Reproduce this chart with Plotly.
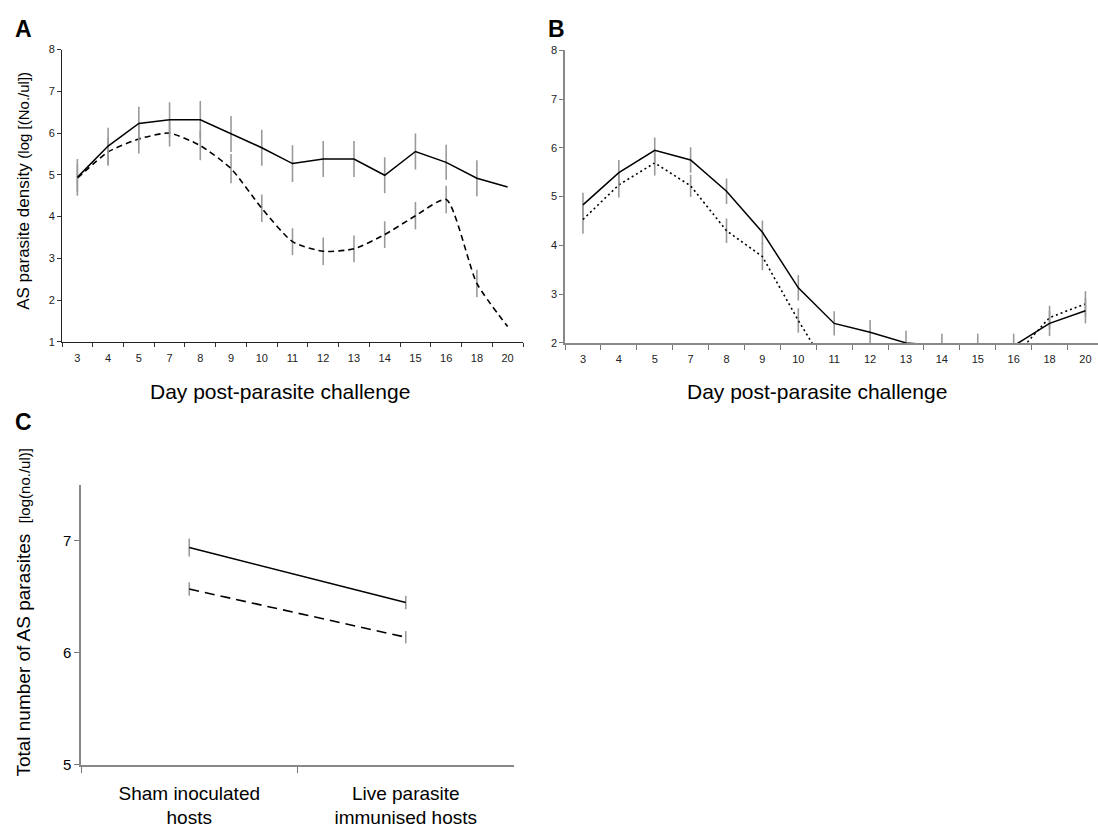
import plotly.graph_objects as go

W, H = 1098, 831
FONT = "Liberation Sans, Arial, sans-serif"

# ---------------- data ----------------
days = ["3", "4", "5", "7", "8", "9", "10", "11", "12", "13", "14", "15", "16", "18", "20"]

# Panel A
a_solid = [4.94, 5.69, 6.23, 6.32, 6.32, 5.98, 5.65, 5.27, 5.38, 5.38, 4.99, 5.56, 5.30, 4.92, 4.71]
a_solid_err = [0.44, 0.44, 0.40, 0.42, 0.45, 0.43, 0.43, 0.44, 0.43, 0.43, 0.43, 0.43, 0.42, 0.43, 0]
a_dash = [4.92, 5.55, 5.86, 6.00, 5.70, 5.15, 4.20, 3.40, 3.17, 3.23, 3.57, 4.02, 4.41, 2.40, 1.37]
a_dash_err = [0.33, 0.33, 0.35, 0.32, 0.35, 0.35, 0.33, 0.32, 0.33, 0.32, 0.32, 0.33, 0.33, 0.33, 0]

# Panel B
b_solid = [4.83, 5.49, 5.95, 5.75, 5.11, 4.27, 3.13, 2.40, 2.22, 2.00, 1.94, 1.94, 1.94, 2.40, 2.66]
b_solid_err = [0.25, 0.26, 0.26, 0.26, 0.26, 0.24, 0.26, 0.25, 0.25, 0.25, 0.25, 0.25, 0.25, 0.26, 0.26]
b_dot = [4.53, 5.24, 5.69, 5.22, 4.30, 3.77, 2.46, 1.25, None, None, None, None, 1.70, 2.52, 2.80]
b_dot_err = [0.29, 0.26, 0.26, 0.23, 0.25, 0.28, 0.25, 0, 0, 0, 0, 0, 0, 0.24, 0.26]

# Panel C
c_groups = ["Sham inoculated<br>hosts", "Live parasite<br>immunised hosts"]
c_solid = [6.94, 6.45]
c_solid_err = [0.08, 0.06]
c_dash = [6.57, 6.14]
c_dash_err = [0.06, 0.055]

# ---------------- helpers ----------------
def fx(p):
    return p / W

def fy(p):
    return 1 - p / H

ERR = dict(type="data", color="#9a9a9a", thickness=1.6, width=0)

fig = go.Figure()

# Panel A
fig.add_trace(go.Scatter(x=days, y=a_dash, mode="lines", line=dict(color="black", width=1.6, dash="6px,4px", shape="spline", smoothing=0.6),
                         error_y=dict(array=a_dash_err, **ERR), xaxis="x", yaxis="y", showlegend=False))
fig.add_trace(go.Scatter(x=days, y=a_solid, mode="lines", line=dict(color="black", width=1.5),
                         error_y=dict(array=a_solid_err, **ERR), xaxis="x", yaxis="y", showlegend=False))

# Panel B
fig.add_trace(go.Scatter(x=days, y=b_dot, mode="lines", connectgaps=True, line=dict(color="black", width=1.6, dash="2px,3px"),
                         error_y=dict(array=b_dot_err, **ERR), xaxis="x2", yaxis="y2", showlegend=False))
fig.add_trace(go.Scatter(x=days, y=b_solid, mode="lines", line=dict(color="black", width=1.5),
                         error_y=dict(array=b_solid_err, **ERR), xaxis="x2", yaxis="y2", showlegend=False))

# Panel C
fig.add_trace(go.Scatter(x=c_groups, y=c_dash, mode="lines", line=dict(color="black", width=1.6, dash="10px,6px"),
                         error_y=dict(array=c_dash_err, **ERR), xaxis="x3", yaxis="y3", showlegend=False))
fig.add_trace(go.Scatter(x=c_groups, y=c_solid, mode="lines", line=dict(color="black", width=1.6),
                         error_y=dict(array=c_solid_err, **ERR), xaxis="x3", yaxis="y3", showlegend=False))

tickfont = dict(family=FONT, size=11, color="#222")

fig.update_layout(
    width=W, height=H, margin=dict(l=0, r=0, t=0, b=0),
    paper_bgcolor="white", plot_bgcolor="white",
    font=dict(family=FONT, color="black"),
    xaxis=dict(domain=[fx(62), fx(523)], type="category", range=[-0.5, 14.5], tickson="boundaries",
               ticks="outside", ticklen=4, tickcolor="#333", showline=True, linecolor="#222", linewidth=1,
               showgrid=False, zeroline=False, tickfont=tickfont, anchor="y", ticklabelstandoff=6),
    yaxis=dict(domain=[fy(341.7), fy(44.3)], range=[1, 8], dtick=1, ticks="outside", ticklen=4, tickcolor="#333",
               showline=True, linecolor="#222", linewidth=1, showgrid=False, zeroline=False, tickfont=tickfont,
               anchor="x"),
    xaxis2=dict(domain=[fx(565), 1.0], type="category", range=[-0.5, 14.35], tickson="boundaries",
                ticks="outside", ticklen=5, tickcolor="#777", showline=True, linecolor="#888", linewidth=1.5,
                showgrid=False, zeroline=False, tickfont=tickfont, anchor="y2", ticklabelstandoff=5),
    yaxis2=dict(domain=[fy(342.7), fy(45)], range=[2, 8], dtick=1, ticks="outside", ticklen=4, tickcolor="#777",
                showline=True, linecolor="#888", linewidth=1.5, showgrid=False, zeroline=False, tickfont=tickfont,
                anchor="x2"),
    xaxis3=dict(domain=[fx(81), fx(514)], type="category", range=[-0.5, 1.5], tickson="boundaries",
                ticks="outside", ticklen=6, tickcolor="#777", showline=True, linecolor="#888", linewidth=1.5,
                showgrid=False, zeroline=False, tickfont=dict(family=FONT, size=19, color="black"), anchor="y3",
                ticklabelstandoff=10),
    yaxis3=dict(domain=[fy(772), fy(487)], range=[5, 7.5], tickvals=[5, 6, 7], ticks="outside", ticklen=5,
                tickcolor="#777", showline=True, linecolor="#888", linewidth=1.5, showgrid=False, zeroline=False,
                tickfont=dict(family=FONT, size=15, color="black"), anchor="x3"),
)

ann = []
def add_text(text, x, y, size, bold=False, angle=0, xanchor="center", yanchor="middle"):
    ann.append(dict(text=("<b>%s</b>" % text) if bold else text, x=fx(x), y=fy(y), xref="paper", yref="paper",
                    showarrow=False, textangle=angle, xanchor=xanchor, yanchor=yanchor,
                    font=dict(family=FONT, size=size, color="black")))

add_text("A", 13, 23, 23, bold=True, xanchor="left")
add_text("B", 546, 23, 23, bold=True, xanchor="left")
add_text("C", 13, 423, 23, bold=True, xanchor="left")

add_text("Day post-parasite challenge", 280, 392, 21)
add_text("Day post-parasite challenge", 817, 392, 21)

add_text('AS parasite density <span style="font-size:15px">(log [(No./ul])</span>', 24, 188, 17, angle=-90)
add_text('Total number of AS parasites  <span style="font-size:15px">[log(no./ul)]</span>', 24, 617, 19, angle=-90)

fig.update_layout(annotations=ann)

fig.write_html("out.html")
